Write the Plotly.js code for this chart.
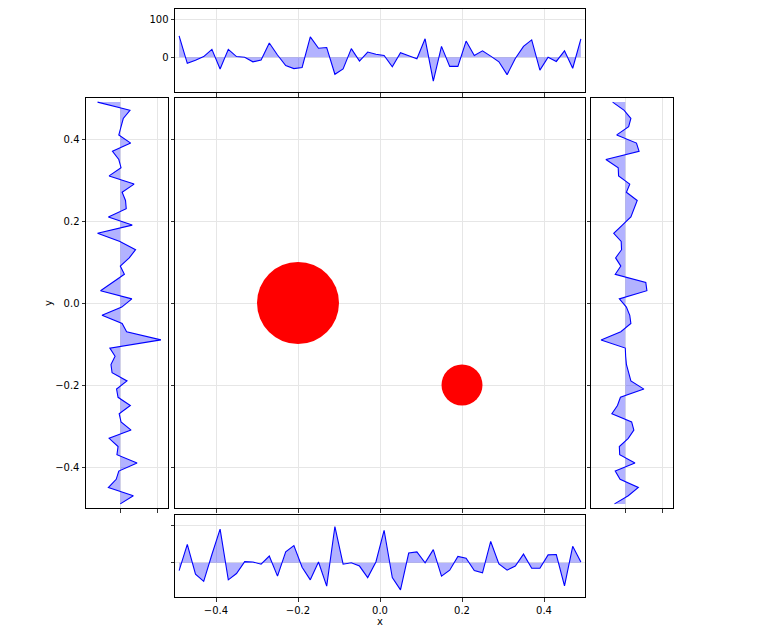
<!DOCTYPE html>
<html>
<head>
<meta charset="utf-8">
<script src="https://cdn.plot.ly/plotly-3.0.1.min.js"></script>
<style>html,body{margin:0;padding:0;background:#fff;}#chart{width:760px;height:634px;}</style>
</head>
<body>
<div id="chart"></div>
<script>
// Sample positions (x for top/bottom, y for left/right)
const positions = [-0.49,-0.47,-0.45,-0.43,-0.41,-0.39,-0.37,-0.35,-0.33,-0.31,-0.29,-0.27,-0.25,-0.23,-0.21,-0.19,-0.17,-0.15,-0.13,-0.11,-0.09,-0.07,-0.05,-0.03,-0.01,0.01,0.03,0.05,0.07,0.09,0.11,0.13,0.15,0.17,0.19,0.21,0.23,0.25,0.27,0.29,0.31,0.33,0.35,0.37,0.39,0.41,0.43,0.45,0.47,0.49];

// Top marginal values (left to right)
const topValues = [57,-16,-8,2,21,-31,21,2,0,-12,-7,38,6,-22,-30,-27,54,24,26,-45,-31,23,-10,14,8,5,-25,12,4,-4,49,-63,29,-24,-24,43,5,17,3,-12,-46,-3,29,46,-34,0,-11,17,-29,49];

// Bottom marginal values (left to right)
const bottomValues = [-21,49,-31,-50,22,90,-46,-29,3,2,-4,18,-36,29,46,-12,-46,2,-63,97,-4,0,-9,-40,2,87,-40,-73,26,29,0,35,-36,-20,17,12,-21,-27,57,-3,-20,-9,23,-15,-15,21,22,-62,44,2];

// Left marginal values (listed from top y=0.49 to bottom y=-0.49)
const leftValuesTopDown = [-61,26,8,2,-4,28,-21,-4,2,-30,37,5,14,16,-32,32,-61,-1,41,24,0,11,-21,-53,31,4,-49,5,17,109,-28,-14,-25,-22,18,-10,-6,27,-3,2,29,-30,-6,-9,45,-4,-11,-32,35,0];

// Right marginal values (listed from top y=0.49 to bottom y=-0.49)
const rightValuesTopDown = [-34,-3,15,9,-23,30,37,-52,-19,-18,12,3,32,24,15,-8,-31,-11,-10,-26,-12,-27,55,58,-16,3,12,15,-12,-65,0,1,3,9,15,50,-13,-21,-36,17,23,8,-16,-15,26,-27,-14,35,8,-29];

// Circles in the main panel
const circleX = [-0.2, 0.2];
const circleY = [0.0, -0.2];
const circleR = [0.1, 0.05];

const mainTicks = [-0.4,-0.2,0.0,0.2,0.4];
const mainTickText = ['\u22120.4','\u22120.2','0.0','0.2','0.4'];
const margTicks = [0,100];
const margTickText = ['0','100'];

const posDesc = positions.slice().reverse();

const lineStyle = {color:'#0000ff', width:1.1};
const fillCol = 'rgba(0,0,255,0.3)';

const traces = [
  {type:'scatter', mode:'lines', x:positions, y:topValues, xaxis:'x2', yaxis:'y2', fill:'tozeroy', fillcolor:fillCol, line:lineStyle, hoverinfo:'skip'},
  {type:'scatter', mode:'lines', x:positions, y:bottomValues, xaxis:'x3', yaxis:'y3', fill:'tozeroy', fillcolor:fillCol, line:lineStyle, hoverinfo:'skip'},
  {type:'scatter', mode:'lines', x:leftValuesTopDown, y:posDesc, xaxis:'x4', yaxis:'y4', fill:'tozerox', fillcolor:fillCol, line:lineStyle, hoverinfo:'skip'},
  {type:'scatter', mode:'lines', x:rightValuesTopDown, y:posDesc, xaxis:'x5', yaxis:'y5', fill:'tozerox', fillcolor:fillCol, line:lineStyle, hoverinfo:'skip'},
  {type:'scatter', mode:'markers', x:circleX, y:circleY, xaxis:'x', yaxis:'y', marker:{size:0.1, opacity:0}, hoverinfo:'skip'}
];

const W = 760, H = 634;
const dx = (a,b)=>[a/W, b/W];
const dy = (top,bot)=>[1-bot/H, 1-top/H];

const font = {family:'DejaVu Sans, sans-serif', size:10, color:'#000'};
const grid = '#e6e6e6';
function ax(opts){
  return Object.assign({
    showline:true, mirror:true, linecolor:'#000', linewidth:1,
    showgrid:true, gridcolor:grid, gridwidth:1,
    zeroline:false, ticks:'outside', ticklen:3.5, tickwidth:0.8, tickcolor:'#000',
    tickfont:font, fixedrange:true
  }, opts);
}

const margRange = [-92,128];

const layout = {
  width:W, height:H,
  margin:{l:0,r:0,t:0,b:0},
  paper_bgcolor:'#fff', plot_bgcolor:'#fff',
  showlegend:false,
  font:font,
  // main
  xaxis: ax({domain:dx(175,585), range:[-0.5,0.5], tickvals:mainTicks, showticklabels:false, anchor:'y'}),
  yaxis: ax({domain:dy(98,508), range:[-0.5,0.5], tickvals:mainTicks, showticklabels:false, anchor:'x'}),
  // top
  xaxis2: ax({domain:dx(175,585), range:[-0.5,0.5], tickvals:mainTicks, showticklabels:false, anchor:'y2'}),
  yaxis2: ax({domain:dy(9,92), range:margRange, tickvals:margTicks, ticktext:margTickText, anchor:'x2'}),
  // bottom
  xaxis3: ax({domain:dx(175,585), range:[-0.5,0.5], tickvals:mainTicks, ticktext:mainTickText, anchor:'y3',
              title:{text:'x', font:font, standoff:1}}),
  yaxis3: ax({domain:dy(515,597), range:margRange, tickvals:margTicks, showticklabels:false, anchor:'x3'}),
  // left
  xaxis4: ax({domain:dx(86,168), range:margRange, tickvals:margTicks, showticklabels:false, anchor:'y4'}),
  yaxis4: ax({domain:dy(98,508), range:[-0.5,0.5], tickvals:mainTicks, ticktext:mainTickText, anchor:'x4',
              title:{text:'y', font:font, standoff:0}}),
  // right
  xaxis5: ax({domain:dx(591,673), range:margRange, tickvals:margTicks, showticklabels:false, anchor:'y5'}),
  yaxis5: ax({domain:dy(98,508), range:[-0.5,0.5], tickvals:mainTicks, showticklabels:false, anchor:'x5'}),
  shapes: circleX.map((cx,i)=>({
    type:'circle', xref:'x', yref:'y', layer:'above',
    x0:cx-circleR[i], x1:cx+circleR[i], y0:circleY[i]-circleR[i], y1:circleY[i]+circleR[i],
    fillcolor:'#ff0000', line:{width:0}
  }))
};

Plotly.newPlot('chart', traces, layout, {displayModeBar:false, staticPlot:true});
</script>
</body>
</html>
